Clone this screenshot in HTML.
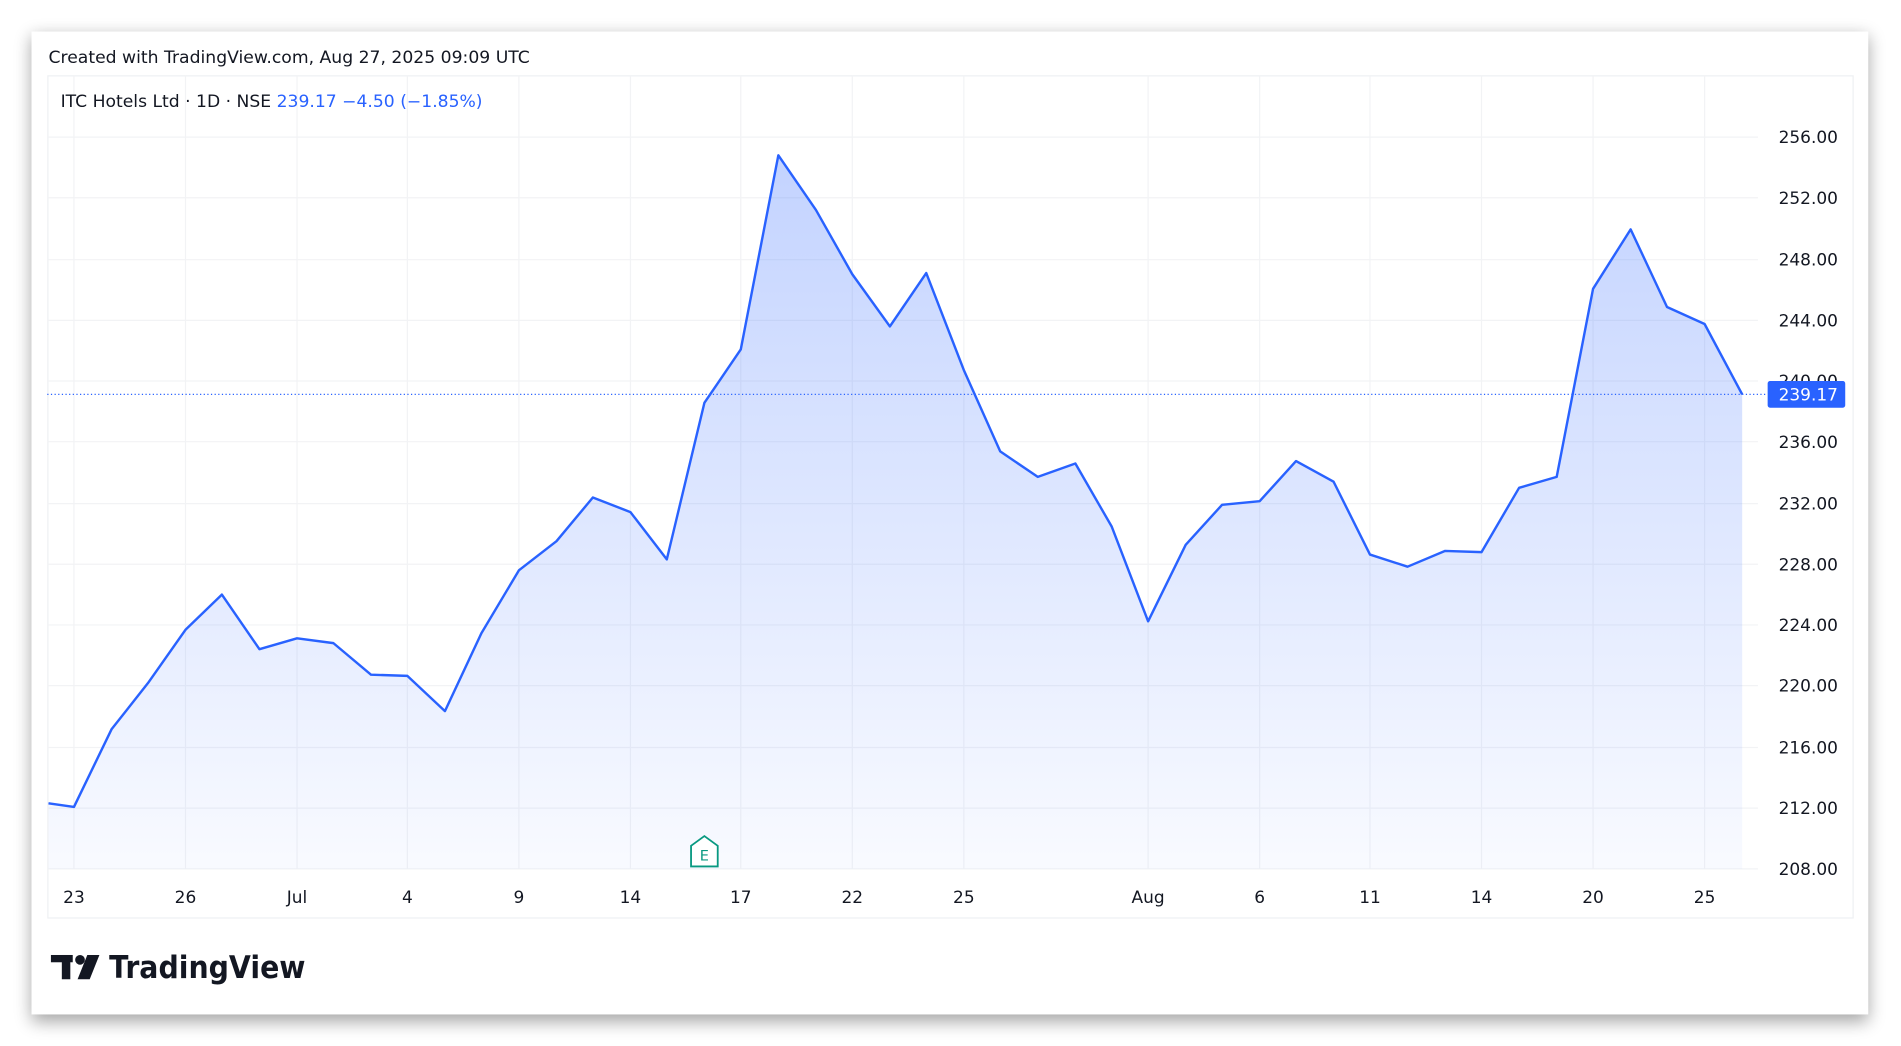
<!DOCTYPE html>
<html><head><meta charset="utf-8"><style>
html,body{margin:0;padding:0;background:#fff;}
svg{display:block;}
text{font-family:"DejaVu Sans","Liberation Sans",sans-serif;}
</style></head><body>
<svg width="1901" height="1046" viewBox="0 0 1568 862" preserveAspectRatio="none" xmlns="http://www.w3.org/2000/svg">
<defs>
<linearGradient id="g" x1="0" y1="0" x2="0" y2="1">
<stop offset="0" stop-color="#2962ff" stop-opacity="0.28"/>
<stop offset="1" stop-color="#2962ff" stop-opacity="0.03"/>
</linearGradient>
<filter id="sh" x="-5%" y="-5%" width="110%" height="115%"><feGaussianBlur stdDeviation="7"/></filter>
</defs>
<rect width="1568" height="862" fill="#fff"/>
<rect x="26" y="30" width="1515" height="812" fill="#000" opacity="0.35" filter="url(#sh)"/>
<rect x="26" y="26" width="1515" height="810" fill="#fff"/>
<text x="40" y="52" font-size="13.6" fill="#131722" textLength="397" lengthAdjust="spacingAndGlyphs">Created with TradingView.com, Aug 27, 2025 09:09 UTC</text>
<rect x="39.5" y="62.5" width="1489" height="694" fill="none" stroke="#eef0f3"/>
<g stroke="#f2f3f5" stroke-width="1">
<line x1="39" y1="113" x2="1450" y2="113"/><line x1="39" y1="163" x2="1450" y2="163"/><line x1="39" y1="214" x2="1450" y2="214"/><line x1="39" y1="264" x2="1450" y2="264"/><line x1="39" y1="314" x2="1450" y2="314"/><line x1="39" y1="364" x2="1450" y2="364"/><line x1="39" y1="415" x2="1450" y2="415"/><line x1="39" y1="465" x2="1450" y2="465"/><line x1="39" y1="515" x2="1450" y2="515"/><line x1="39" y1="565" x2="1450" y2="565"/><line x1="39" y1="616" x2="1450" y2="616"/><line x1="39" y1="666" x2="1450" y2="666"/><line x1="39" y1="716" x2="1450" y2="716"/>
<line x1="61" y1="62" x2="61" y2="716"/><line x1="153" y1="62" x2="153" y2="716"/><line x1="245" y1="62" x2="245" y2="716"/><line x1="336" y1="62" x2="336" y2="716"/><line x1="428" y1="62" x2="428" y2="716"/><line x1="520" y1="62" x2="520" y2="716"/><line x1="611" y1="62" x2="611" y2="716"/><line x1="703" y1="62" x2="703" y2="716"/><line x1="795" y1="62" x2="795" y2="716"/><line x1="947" y1="62" x2="947" y2="716"/><line x1="1039" y1="62" x2="1039" y2="716"/><line x1="1130" y1="62" x2="1130" y2="716"/><line x1="1222" y1="62" x2="1222" y2="716"/><line x1="1314" y1="62" x2="1314" y2="716"/><line x1="1406" y1="62" x2="1406" y2="716"/>
</g>
<path d="M40,662 L61,665 L92,601 L122,563 L153,519 L183,490 L214,535 L245,526 L275,530 L306,556 L336,557 L367,586 L397,522 L428,470 L459,446 L489,410 L520,422 L550,461 L581,332 L611,288 L642,128 L673,173 L703,226 L734,269 L764,225 L795,305 L825,372 L856,393 L887,382 L917,434 L947,512 L978,449 L1008,416 L1039,413 L1069,380 L1100,397 L1130,457 L1161,467 L1192,454 L1222,455 L1253,402 L1284,393 L1314,238 L1345,189 L1375,253 L1406,267 L1437,325 L1437,716 L40,716 Z" fill="url(#g)"/>
<path d="M40,662 L61,665 L92,601 L122,563 L153,519 L183,490 L214,535 L245,526 L275,530 L306,556 L336,557 L367,586 L397,522 L428,470 L459,446 L489,410 L520,422 L550,461 L581,332 L611,288 L642,128 L673,173 L703,226 L734,269 L764,225 L795,305 L825,372 L856,393 L887,382 L917,434 L947,512 L978,449 L1008,416 L1039,413 L1069,380 L1100,397 L1130,457 L1161,467 L1192,454 L1222,455 L1253,402 L1284,393 L1314,238 L1345,189 L1375,253 L1406,267 L1437,325" fill="none" stroke="#2962ff" stroke-width="2" stroke-linejoin="round"/>
<line x1="39" y1="325" x2="1458" y2="325" stroke="#2962ff" stroke-width="1" stroke-dasharray="1,2"/>
<text x="50" y="88" font-size="13.6" fill="#131722" textLength="348" lengthAdjust="spacingAndGlyphs">ITC Hotels Ltd · 1D · NSE  <tspan fill="#2962ff">239.17  −4.50 (−1.85%)</tspan></text>
<g font-size="14" fill="#131722" text-anchor="end">
<text x="1516" y="118">256.00</text><text x="1516" y="168">252.00</text><text x="1516" y="219">248.00</text><text x="1516" y="269">244.00</text><text x="1516" y="319">240.00</text><text x="1516" y="369">236.00</text><text x="1516" y="420">232.00</text><text x="1516" y="470">228.00</text><text x="1516" y="520">224.00</text><text x="1516" y="570">220.00</text><text x="1516" y="621">216.00</text><text x="1516" y="671">212.00</text><text x="1516" y="721">208.00</text>
</g>
<rect x="1458" y="314" width="64" height="22" rx="2" fill="#2962ff"/>
<text x="1516" y="330" font-size="14" fill="#fff" text-anchor="end">239.17</text>
<g font-size="14" fill="#131722" text-anchor="middle">
<text x="61" y="744">23</text><text x="153" y="744">26</text><text x="245" y="744">Jul</text><text x="336" y="744">4</text><text x="428" y="744">9</text><text x="520" y="744">14</text><text x="611" y="744">17</text><text x="703" y="744">22</text><text x="795" y="744">25</text><text x="947" y="744">Aug</text><text x="1039" y="744">6</text><text x="1130" y="744">11</text><text x="1222" y="744">14</text><text x="1314" y="744">20</text><text x="1406" y="744">25</text>
</g>
<path d="M570,714 L570,697 L581,689 L592,697 L592,714 Z" fill="#fff" stroke="#089981" stroke-width="1.5"/>
<text x="581" y="709" font-size="12" fill="#089981" text-anchor="middle">E</text>
<g fill="#131722">
<rect x="42" y="787" width="18" height="6"/><rect x="51" y="787" width="7" height="20"/>
<circle cx="66" cy="791" r="4"/>
<path d="M72,787 L82,787 L74,807 L64,807 Z"/>
</g>
<text x="90" y="806" font-size="26" font-weight="bold" fill="#131722" font-family="Liberation Sans, sans-serif" textLength="162" lengthAdjust="spacingAndGlyphs">TradingView</text>
</svg>
</body></html>
